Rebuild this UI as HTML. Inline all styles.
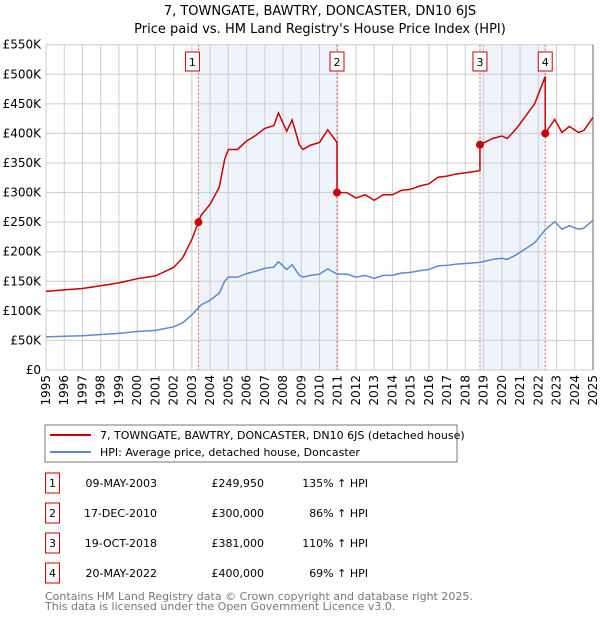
<!DOCTYPE html>
<html><head><meta charset="utf-8"><style>
body{margin:0;background:#fff;font-family:"DejaVu Sans","Liberation Sans",sans-serif;}
svg text{font-family:"DejaVu Sans","Liberation Sans",sans-serif;}
</style></head><body>
<svg id="chart" width="600" height="620" xmlns="http://www.w3.org/2000/svg">
<text x="320" y="15" text-anchor="middle" font-size="13">7, TOWNGATE, BAWTRY, DONCASTER, DN10 6JS</text>
<text x="320" y="33" text-anchor="middle" font-size="13">Price paid vs. HM Land Registry's House Price Index (HPI)</text>
<g id="plot"></g>
<rect x="45" y="425" width="412" height="37" fill="#fff" stroke="#777"/>
<line x1="50" y1="435" x2="91" y2="435" stroke="#cc0000" stroke-width="2"/>
<text x="100" y="439" font-size="11">7, TOWNGATE, BAWTRY, DONCASTER, DN10 6JS (detached house)</text>
<line x1="50" y1="452" x2="91" y2="452" stroke="#5b8bd0" stroke-width="2"/>
<text x="100" y="456" font-size="11">HPI: Average price, detached house, Doncaster</text>
<g id="table" font-size="11"></g>
<text x="45" y="600" font-size="11" fill="#777">Contains HM Land Registry data © Crown copyright and database right 2025.</text>
<text x="45" y="610" font-size="11" fill="#777">This data is licensed under the Open Government Licence v3.0.</text>
</svg>
<script>
const hpiYears=[1995,1996,1997,1998,1999,2000,2001,2001.5,2002,2002.5,2003,2003.5,2004,2004.5,2004.8,2005,2005.5,2006,2006.5,2007,2007.5,2007.75,2008.2,2008.5,2008.9,2009.1,2009.5,2010,2010.45,2010.96,2011.5,2012,2012.5,2013,2013.5,2014,2014.5,2015,2015.5,2016,2016.5,2017,2017.5,2018,2018.8,2019.5,2020,2020.3,2020.8,2021.3,2021.8,2022.38,2022.9,2023.3,2023.7,2024.2,2024.5,2025];
const hpiValues=[56,57,58,60,62,65,67,70,73,80,93,110,118,130,150,157,157,163,167,172,174,183,170,178,160,157,160,162,171,162,162,157,160,155,160,160,164,165,168,170,176,177,179,180,182,187,189,187,195,205,215,237,251,238,244,238,240,253];
const saleLabels=["1","2","3","4"];
const saleYears=[2003.36,2010.96,2018.8,2022.38];
const salePrices=[249.95,300,381,400];
const saleDates=["09-MAY-2003","17-DEC-2010","19-OCT-2018","20-MAY-2022"];
const salePriceText=["£249,950","£300,000","£381,000","£400,000"];
const saleDiffText=["135% ↑ HPI","86% ↑ HPI","110% ↑ HPI","69% ↑ HPI"];
const yTicks=[0,50,100,150,200,250,300,350,400,450,500,550];
const yTickLabels=["£0","£50K","£100K","£150K","£200K","£250K","£300K","£350K","£400K","£450K","£500K","£550K"];
const xTicks=[];for(let y=1995;y<=2025;y++)xTicks.push(y);

const NS="http://www.w3.org/2000/svg";
const L=46,R=593,T=44.7,B=370;
const xs=y=>L+(y-1995)/30*(R-L);
const ys=v=>B-v/550*(B-T);
const plot=document.getElementById('plot');
function mk(tag,attrs,parent){const e=document.createElementNS(NS,tag);for(const k in attrs)e.setAttribute(k,attrs[k]);(parent||plot).appendChild(e);return e;}
function hpiAt(y){for(let i=0;i<hpiYears.length-1;i++){if(y<=hpiYears[i+1]){const t=(y-hpiYears[i])/(hpiYears[i+1]-hpiYears[i]);return hpiValues[i]+t*(hpiValues[i+1]-hpiValues[i]);}}return hpiValues[hpiValues.length-1];}

// shaded spans
for(let i=0;i<saleYears.length;i+=2){
 const r=mk('rect',{x:xs(saleYears[i]),y:T,width:xs(saleYears[i+1])-xs(saleYears[i]),height:B-T,fill:'#eef3fc'});
 
 
}
// grid
yTicks.forEach((v,i)=>{
 const g=mk('line',{x1:L,x2:R,y1:ys(v),y2:ys(v),stroke:'#cccccc','stroke-width':1});
 
 
 const t=mk('text',{x:L-5,y:ys(v)+4,'text-anchor':'end','font-size':12});
 t.textContent=yTickLabels[i];
 
 
});
xTicks.forEach(y=>{
 const g=mk('line',{x1:xs(y),x2:xs(y),y1:T,y2:B,stroke:'#cccccc','stroke-width':1});
 
 
 const t=mk('text',{x:0,y:0,'text-anchor':'end','font-size':12,transform:`translate(${xs(y)+4},${B+5}) rotate(-90)`});
 t.textContent=y;
 
 
});
const edge=mk('line',{x1:R,x2:R,y1:T,y2:B,stroke:'#999','stroke-width':1.5});


// sale vlines
saleYears.forEach((y,i)=>{
 const l=mk('line',{x1:xs(y),x2:xs(y),y1:T,y2:B,stroke:'#e06060','stroke-width':1,'stroke-dasharray':'2,2'});
 
 
});
// hpi line
const hp=mk('polyline',{points:hpiYears.map((y,i)=>xs(y)+','+ys(hpiValues[i])).join(' '),fill:'none',stroke:'#5b8bd0','stroke-width':1.5});


// property line: hpi scaled by ratio of latest sale
const ratios=saleYears.map((y,i)=>salePrices[i]/hpiAt(y));
const pts=[];
const allYears=[...hpiYears,...saleYears].sort((a,b)=>a-b);
allYears.forEach(y=>{
 let k=0;for(let i=0;i<saleYears.length;i++)if(y>=saleYears[i])k=i;
 if(saleYears.includes(y)&&k>0){pts.push(xs(y)+','+ys(hpiAt(y)*ratios[k-1]));}
 pts.push(xs(y)+','+ys(hpiAt(y)*ratios[k]));
});
const pl=mk('polyline',{points:pts.join(' '),fill:'none',stroke:'#cc0000','stroke-width':1.5});


saleYears.forEach((y,i)=>{
 const c=mk('circle',{cx:xs(y),cy:ys(salePrices[i]),r:4,fill:'#cc0000'});
 
 
 const bx=xs(y)-(i===0?6:0)-7;
 const b=mk('rect',{x:bx,y:52,width:14,height:19,fill:'#fff',stroke:'#cc0000','stroke-width':1});
 
 
 const t=mk('text',{x:bx+7,y:66,'text-anchor':'middle','font-size':11});
 t.textContent=saleLabels[i];
 
 
});
// table
const tb=document.getElementById('table');
saleLabels.forEach((s,i)=>{
 const cy=483+i*30;
 const b=mk('rect',{x:45.5,y:cy-10,width:14,height:20,fill:'#fff',stroke:'#cc0000'},tb);
 
 
 const n=mk('text',{x:52.5,y:cy+4,'text-anchor':'middle'},tb);n.textContent=s;
 
 
 const d=mk('text',{x:157,y:cy+4,'text-anchor':'end'},tb);d.textContent=saleDates[i];
 
 
 const p=mk('text',{x:264,y:cy+4,'text-anchor':'end'},tb);p.textContent=salePriceText[i];
 
 
 const h=mk('text',{x:368,y:cy+4,'text-anchor':'end'},tb);h.textContent=saleDiffText[i];
 
 
});
</script>
</body></html>
